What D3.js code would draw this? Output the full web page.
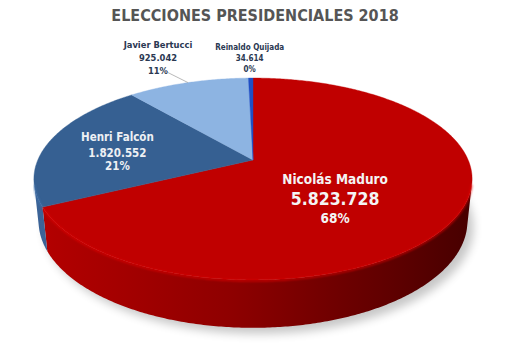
<!DOCTYPE html>
<html><head><meta charset="utf-8">
<script src="https://cdn.jsdelivr.net/npm/d3@7"></script>
<style>body{margin:0;background:#fff}svg{display:block}</style>
</head><body>
<script>
// Venezuelan presidential election 2018 – votes by candidate
const candidates = ["Nicolás Maduro", "Henri Falcón", "Javier Bertucci", "Reinaldo Quijada"];
const votes = [5823728, 1820552, 925042, 34614];
const topColors = ["#c00000", "#366092", "#8db4e2", "#1f4fc4"];
const sideLight = ["#b40000", "#3b6397", "#82a8d4", "#1f4bbb"];
const sideDark = ["#480000", "#27466f", "#5b7ea8", "#14348a"];

const W = 523, H = 347;
const esVE = d3.formatLocale({decimal: ",", thousands: ".", grouping: [3], currency: ["Bs", ""]});
const fmtVotes = esVE.format(",d");

const svg = d3.select("body").append("svg").attr("width", W).attr("height", H)
  .attr("font-family", "'DejaVu Sans Condensed','DejaVu Sans',sans-serif")
  .style("font-stretch", "condensed");
const defs = svg.append("defs");

// perspective camera looking down on a unit disk
const cx = 253, cy = 160, F = 1020, D = 4.74, depth = 0.221;
const tilt = 26.9 * Math.PI / 180, ct = Math.cos(tilt), st = Math.sin(tilt);
function project(a, r, y) {
  const X = r * Math.sin(a), Z = r * Math.cos(a);
  const yc = y * ct + Z * st, zc = -y * st + Z * ct;
  const k = F / (D + zc);
  return [cx + X * k, cy - yc * k];
}
function rim(a0, a1, y, r = 1) {
  const n = Math.max(2, Math.ceil((a1 - a0) / 0.01));
  return d3.range(n + 1).map(i => project(a0 + (a1 - a0) * i / n, r, y));
}
const line = d3.line();
const closed = d3.line().curve(d3.curveLinearClosed);

const arcs = d3.pie().sort(null).startAngle(0).endAngle(2 * Math.PI)(votes);
const total = d3.sum(votes);

// part of the rim wall that faces the camera
const aMin = Math.acos(-1 / (D * ct)), aMax = 2 * Math.PI - aMin;
const leftX = project(-Math.PI / 2, 1, 0)[0], rightX = project(Math.PI / 2, 1, 0)[0];

// soft drop shadow under the disk
const blur = defs.append("filter").attr("id", "shadow").attr("x", "-20%").attr("y", "-20%").attr("width", "140%").attr("height", "140%");
blur.append("feGaussianBlur").attr("stdDeviation", 5);
svg.append("path")
  .attr("d", closed(rim(0, 2 * Math.PI, -depth)))
  .attr("transform", "translate(6,6)")
  .attr("fill", "#000").attr("opacity", 0.22)
  .attr("filter", "url(#shadow)");

// side walls
arcs.forEach((d, i) => {
  const s0 = Math.max(d.startAngle, aMin), s1 = Math.min(d.endAngle, aMax);
  if (s1 <= s0) return;
  const g = defs.append("linearGradient").attr("id", "side" + i)
    .attr("gradientUnits", "userSpaceOnUse").attr("x1", leftX).attr("x2", rightX).attr("y1", 0).attr("y2", 0);
  g.append("stop").attr("offset", 0).attr("stop-color", sideLight[i]);
  g.append("stop").attr("offset", 0.45).attr("stop-color", d3.interpolateRgb(sideLight[i], sideDark[i])(0.35));
  g.append("stop").attr("offset", 1).attr("stop-color", sideDark[i]);
  const pts = rim(s0, s1, 0).concat(rim(s0, s1, -depth).reverse());
  svg.append("path").attr("d", closed(pts)).attr("fill", `url(#side${i})`);
});

// top faces
arcs.forEach((d, i) => {
  const pts = [project(0, 0, 0)].concat(rim(d.startAngle, d.endAngle, 0));
  svg.append("path").attr("d", closed(pts)).attr("fill", topColors[i])
    .attr("stroke", topColors[i]).attr("stroke-width", 0.4);
});

// bevel highlight on the front rim
const soft = defs.append("filter").attr("id", "soft");
soft.append("feGaussianBlur").attr("stdDeviation", 0.8);
arcs.forEach((d, i) => {
  const s0 = Math.max(d.startAngle, aMin), s1 = Math.min(d.endAngle, aMax);
  if (s1 <= s0) return;
  svg.append("path").attr("d", line(rim(s0, s1, -0.004)))
    .attr("fill", "none").attr("stroke", d3.color(topColors[i]).brighter(0.5))
    .attr("stroke-width", 1.6).attr("opacity", 0.8).attr("filter", "url(#soft)");
});

// title
svg.append("text").attr("x", 255).attr("y", 21).attr("text-anchor", "middle")
  .attr("font-weight", "bold").attr("font-size", 16).attr("fill", "#555555")
  .text("ELECCIONES PRESIDENCIALES 2018");

// data labels
const labelCfg = [
  {r: 0.43, inside: true, color: "#f4f4f4", sizes: [13.5, 17.5, 13.5], dys: [1, 22, 40]},
  {r: 0.66, inside: true, color: "#eef0f4", sizes: [11.5, 11.5, 11.5], dys: [-6, 10, 23]},
  {inside: false, color: "#2a3852", sizes: [9.3, 9.3, 9.3], at: [-30, 0], dys: [-34.5, -21.5, -8.5], leader: [10, -10]},
  {inside: false, color: "#2a3852", sizes: [8, 8, 8], at: [-1, 0], dys: [-28.5, -17.5, -6.5]}
];
arcs.forEach((d, i) => {
  const c = labelCfg[i];
  const mid = (d.startAngle + d.endAngle) / 2;
  let x, y;
  if (c.inside) {
    [x, y] = project(mid, c.r, 0);
  } else {
    const p = project(mid, 1, 0);
    x = p[0] + c.at[0]; y = p[1] + c.at[1];
    if (c.leader) {
      svg.append("path").attr("d", line([p, [x + c.leader[0], y + c.leader[1]]]))
        .attr("fill", "none").attr("stroke", "#a6a6a6").attr("stroke-width", 0.8);
    }
  }
  const pct = Math.round(d.value / total * 100) + "%";
  const lines = [candidates[i], fmtVotes(d.value), pct];
  lines.forEach((t, j) => {
    svg.append("text").attr("x", x).attr("y", y + c.dys[j]).attr("text-anchor", "middle")
      .attr("font-weight", "bold").attr("font-size", c.sizes[j]).attr("fill", c.color)
      .text(t);
  });
});
</script>
</body></html>
